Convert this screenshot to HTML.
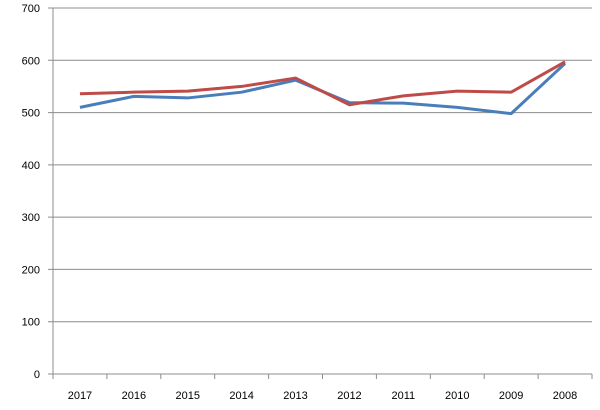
<!DOCTYPE html>
<html><head><meta charset="utf-8"><style>
body{margin:0;background:#fff;font-family:"Liberation Sans",sans-serif;}
svg text{font-size:11px;fill:#000;}
</style></head><body>
<svg width="600" height="405">
<g id="grid"></g><g id="axes"></g><g id="series"></g>
</svg>
<script>
const categories=["2017","2016","2015","2014","2013","2012","2011","2010","2009","2008"];
const seriesBlue=[510,531,528,539,562,519,518,510,498,594];
const seriesRed=[536,539,541,550,566,515,532,541,539,597];
const yTicks=[0,100,200,300,400,500,600,700];
const L=53,R=592,Y0=374,Y1=8,YMAX=700;
const NS="http://www.w3.org/2000/svg";
function y(v){return Y0-(Y0-Y1)*v/YMAX;}
function x(i){return L+(R-L)/categories.length*(i+0.5);}
function mk(t,a,p){const e=document.createElementNS(NS,t);for(const k in a)e.setAttribute(k,a[k]);p.appendChild(e);return e;}
const grid=document.getElementById('grid'),axes=document.getElementById('axes'),ser=document.getElementById('series');
yTicks.forEach(v=>{
 const g=mk('line',{x1:L-5,x2:R,y1:y(v),y2:y(v),stroke:'#8c8c8c','stroke-width':1},grid);
 
 
 const t=mk('text',{x:40,y:y(v)+4,'text-anchor':'end'},axes);t.textContent=v;
 
 
});
const ya=mk('line',{x1:L,x2:L,y1:Y1,y2:Y0,stroke:'#8c8c8c'},axes);


for(let i=0;i<=categories.length;i++){
 const xx=L+(R-L)/categories.length*i;
 const tk=mk('line',{x1:xx,x2:xx,y1:Y0,y2:Y0+5,stroke:'#8c8c8c'},axes);
 
 
}
categories.forEach((c,i)=>{
 const t=mk('text',{x:x(i),y:399,'text-anchor':'middle'},axes);t.textContent=c;
 
 
});
function line(d,col,name){
 const p=mk('polyline',{points:d.map((v,i)=>x(i)+','+y(v)).join(' '),fill:'none',stroke:col,'stroke-width':3,'stroke-linejoin':'round'},ser);
 
 
}
line(seriesBlue,'#4a7ebb','series-blue');
line(seriesRed,'#be4b48','series-red');
</script>
</body></html>
